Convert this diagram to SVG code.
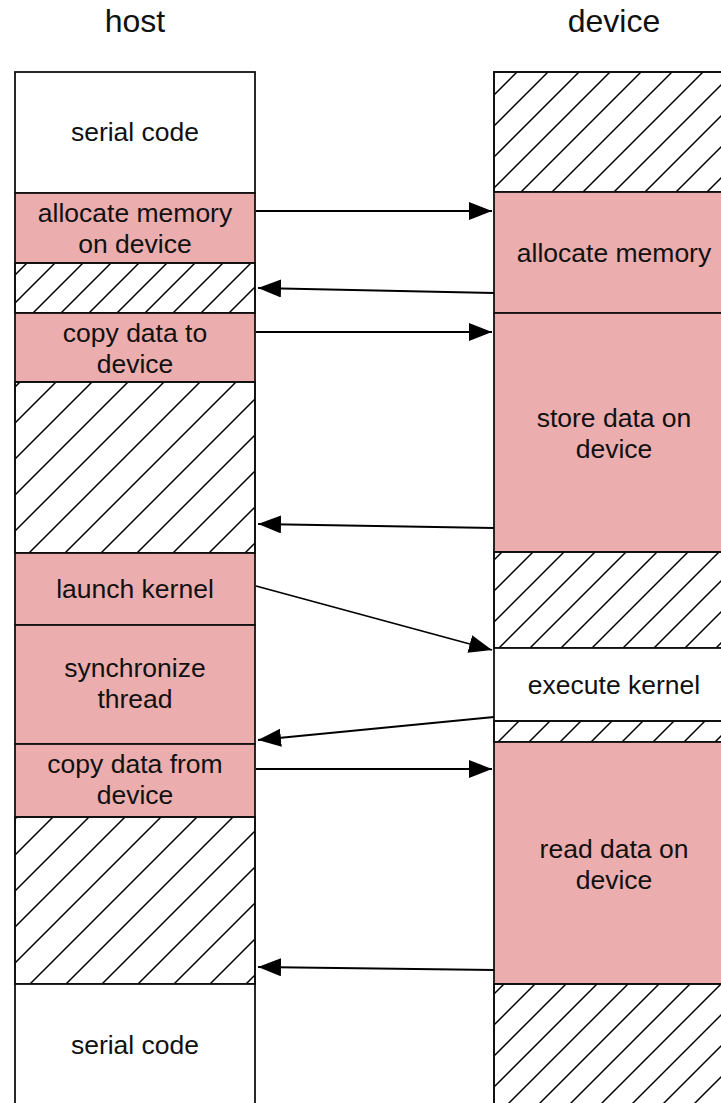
<svg xmlns="http://www.w3.org/2000/svg" width="721" height="1103" viewBox="0 0 721 1103">
  <defs>
    <style>
      .title { font-family: "Liberation Sans", Arial, sans-serif; font-size: 32px; fill: #111; text-anchor: middle; }
      .lbl { font-family: "Liberation Sans", Arial, sans-serif; font-size: 26.5px; fill: #111; text-anchor: middle; }
      .cell { stroke: #111; stroke-width: 1.8; }
      .busy { fill: #ebadad; }
      .plain { fill: #ffffff; }
      .edge { fill: none; stroke: #000; stroke-width: 1.8; marker-end: url(#head); }
    </style>
    <pattern id="hatchHost" patternUnits="userSpaceOnUse" x="6" y="0" width="36" height="36">
      <path d="M0,36 L36,0 M-3,3 L3,-3 M33,39 L39,33" stroke="#000" stroke-width="1.5"/>
    </pattern>
    <pattern id="hatchHostSmall" patternUnits="userSpaceOnUse" x="10" y="0" width="28" height="28">
      <path d="M0,28 L28,0 M-3,3 L3,-3 M25,31 L31,25" stroke="#000" stroke-width="1.5"/>
    </pattern>
    <pattern id="hatchDev" patternUnits="userSpaceOnUse" x="0" y="0" width="31" height="31">
      <path d="M0,31 L31,0 M-3,3 L3,-3 M28,34 L34,28" stroke="#000" stroke-width="1.5"/>
    </pattern>
    <marker id="head" markerUnits="userSpaceOnUse" markerWidth="24" markerHeight="20" refX="23" refY="9" orient="auto">
      <path d="M0,0 L23,9 L0,18 Z" fill="#000"/>
    </marker>
  </defs>

  <rect x="0" y="0" width="721" height="1103" fill="#ffffff"/>

  <!-- column headings -->
  <text class="title" x="135" y="32">host</text>
  <text class="title" x="614" y="32">device</text>

  <!-- host timeline -->
  <g id="host-serial-1">
    <rect class="cell plain" x="15" y="72" width="240" height="121"/>
    <text class="lbl" x="135" y="141">serial code</text>
  </g>
  <g id="host-allocate">
    <rect class="cell busy" x="15" y="193" width="240" height="70"/>
    <text class="lbl" x="135" y="222">allocate memory</text>
    <text class="lbl" x="135" y="253">on device</text>
  </g>
  <g id="host-idle-1">
    <rect class="cell plain" x="15" y="263" width="240" height="50"/>
    <rect x="15" y="263" width="240" height="50" fill="url(#hatchHostSmall)" stroke="#111" stroke-width="1.8"/>
  </g>
  <g id="host-copy-to">
    <rect class="cell busy" x="15" y="313" width="240" height="69"/>
    <text class="lbl" x="135" y="342">copy data to</text>
    <text class="lbl" x="135" y="373">device</text>
  </g>
  <g id="host-idle-2">
    <rect class="cell plain" x="15" y="382" width="240" height="171"/>
    <rect x="15" y="382" width="240" height="171" fill="url(#hatchHost)" stroke="#111" stroke-width="1.8"/>
  </g>
  <g id="host-launch">
    <rect class="cell busy" x="15" y="553" width="240" height="72"/>
    <text class="lbl" x="135" y="598">launch kernel</text>
  </g>
  <g id="host-sync">
    <rect class="cell busy" x="15" y="625" width="240" height="119"/>
    <text class="lbl" x="135" y="677">synchronize</text>
    <text class="lbl" x="135" y="708">thread</text>
  </g>
  <g id="host-copy-from">
    <rect class="cell busy" x="15" y="744" width="240" height="73"/>
    <text class="lbl" x="135" y="773">copy data from</text>
    <text class="lbl" x="135" y="804">device</text>
  </g>
  <g id="host-idle-3">
    <rect class="cell plain" x="15" y="817" width="240" height="167"/>
    <rect x="15" y="817" width="240" height="167" fill="url(#hatchHost)" stroke="#111" stroke-width="1.8"/>
  </g>
  <g id="host-serial-2">
    <rect class="cell plain" x="15" y="984" width="240" height="130"/>
    <text class="lbl" x="135" y="1054">serial code</text>
  </g>

  <!-- device timeline -->
  <g id="dev-idle-1">
    <rect class="cell plain" x="494" y="72" width="240" height="120"/>
    <rect x="494" y="72" width="240" height="120" fill="url(#hatchDev)" stroke="#111" stroke-width="1.8"/>
  </g>
  <g id="dev-allocate">
    <rect class="cell busy" x="494" y="192" width="240" height="121"/>
    <text class="lbl" x="614" y="262">allocate memory</text>
  </g>
  <g id="dev-store">
    <rect class="cell busy" x="494" y="313" width="240" height="239"/>
    <text class="lbl" x="614" y="427">store data on</text>
    <text class="lbl" x="614" y="458">device</text>
  </g>
  <g id="dev-idle-2">
    <rect class="cell plain" x="494" y="552" width="240" height="96"/>
    <rect x="494" y="552" width="240" height="96" fill="url(#hatchDev)" stroke="#111" stroke-width="1.8"/>
  </g>
  <g id="dev-execute">
    <rect class="cell plain" x="494" y="648" width="240" height="73"/>
    <text class="lbl" x="614" y="694">execute kernel</text>
  </g>
  <g id="dev-idle-3">
    <rect class="cell plain" x="494" y="721" width="240" height="21"/>
    <rect x="494" y="721" width="240" height="21" fill="url(#hatchDev)" stroke="#111" stroke-width="1.8"/>
  </g>
  <g id="dev-read">
    <rect class="cell busy" x="494" y="742" width="240" height="242"/>
    <text class="lbl" x="614" y="858">read data on</text>
    <text class="lbl" x="614" y="889">device</text>
  </g>
  <g id="dev-idle-4">
    <rect class="cell plain" x="494" y="984" width="240" height="130"/>
    <rect x="494" y="984" width="240" height="130" fill="url(#hatchDev)" stroke="#111" stroke-width="1.8"/>
  </g>

  <!-- host/device calls and returns -->
  <g id="connectors">
    <path class="edge" d="M256,211 L492,211"/>
    <path class="edge" d="M494,293 L258,288"/>
    <path class="edge" d="M256,332 L492,332"/>
    <path class="edge" d="M494,528 L258,524"/>
    <path class="edge" d="M256,586 L492,650"/>
    <path class="edge" d="M494,717 L258,740"/>
    <path class="edge" d="M256,769 L492,769"/>
    <path class="edge" d="M494,970 L258,967"/>
  </g>
</svg>
